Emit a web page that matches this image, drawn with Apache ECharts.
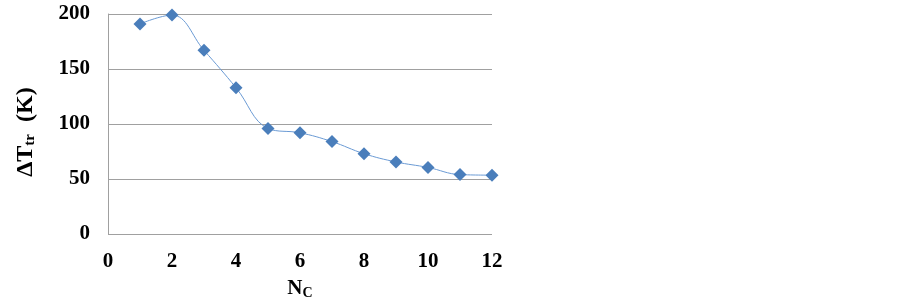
<!DOCTYPE html>
<html>
<head>
<meta charset="utf-8">
<script src="https://cdn.jsdelivr.net/npm/echarts@6/dist/echarts.min.js"></script>
<style>
  html, body { margin: 0; padding: 0; background: #fff; }
  #chart { width: 903px; height: 305px; }
</style>
</head>
<body>
<div id="chart"></div>
<script>
// N_C values and the transition temperature span
const nc = [1, 2, 3, 4, 5, 6, 7, 8, 9, 10, 11, 12]
const deltaT = [191, 199, 167, 133, 96, 92, 84, 73, 65.5, 60.5, 54, 53.5]

const font = '"Liberation Serif", "Times New Roman", serif'

const chart = echarts.init(document.getElementById('chart'))

const option = {
  animation: false,
  grid: {
    left: 108,
    right: 411,
    top: 14,
    bottom: 69
  },
  xAxis: {
    type: 'value',
    min: 0,
    max: 12,
    interval: 2,
    name: 'N{sub|C}',
    nameLocation: 'middle',
    nameGap: 44,
    nameTextStyle: {
      fontFamily: font,
      fontWeight: 'bold',
      fontSize: 21,
      color: '#000',
      rich: {
        sub: { fontFamily: font, fontWeight: 'bold', fontSize: 14, color: '#000', verticalAlign: 'bottom', padding: [8, 0, 0, 0] }
      }
    },
    axisLine: { show: false },
    axisTick: { show: false },
    splitLine: { show: false },
    axisLabel: {
      margin: 17,
      fontFamily: font,
      fontWeight: 'bold',
      fontSize: 21,
      color: '#000'
    }
  },
  yAxis: {
    type: 'value',
    min: 0,
    max: 200,
    interval: 50,
    name: 'ΔT{sub|tr}  (K)',
    nameLocation: 'middle',
    nameRotate: 90,
    nameGap: 70,
    nameTextStyle: {
      fontFamily: font,
      fontWeight: 'bold',
      fontSize: 24,
      color: '#000',
      padding: [0, 16, 0, 0],
      rich: {
        sub: { fontFamily: font, fontWeight: 'bold', fontSize: 15, color: '#000', verticalAlign: 'bottom', padding: [9, 0, 0, 0] }
      }
    },
    axisLine: { show: true, lineStyle: { color: '#a0a0a0', width: 1 } },
    axisTick: { show: false },
    splitLine: { show: true, lineStyle: { color: '#a0a0a0', width: 1 } },
    axisLabel: {
      margin: 18,
      fontFamily: font,
      fontWeight: 'bold',
      fontSize: 21,
      color: '#000'
    }
  },
  series: [
    {
      type: 'line',
      data: nc.map((x, i) => [x, deltaT[i]]),
      smooth: 0.4,
      symbol: 'diamond',
      symbolSize: 13,
      itemStyle: { color: '#4a7ebb' },
      lineStyle: { color: '#6a9ad4', width: 1 }
    }
  ]
}

chart.setOption(option)
</script>
</body>
</html>
